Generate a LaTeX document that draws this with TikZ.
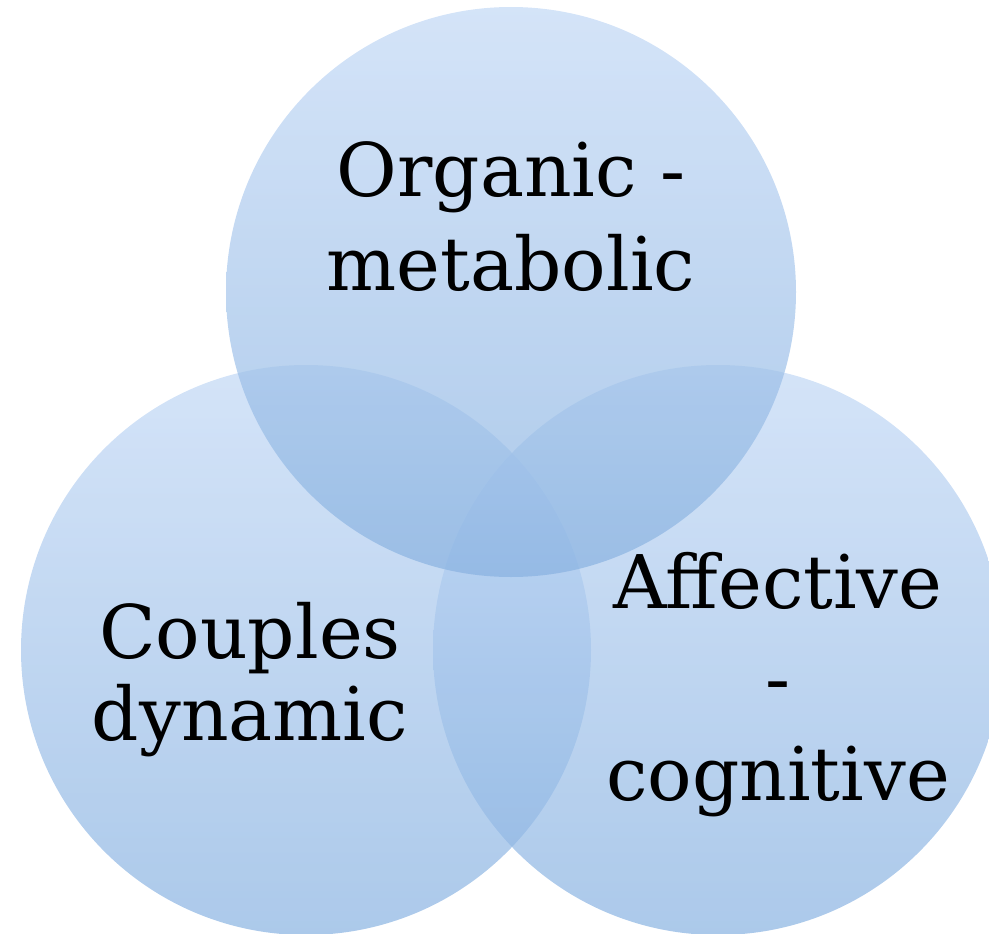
\documentclass[tikz,border=0pt]{standalone}
\usepackage{fontspec}
\setmainfont{DejaVu Serif}
\usepackage{tikz}
\usepackage{xcolor}

\definecolor{bubbletop}{RGB}{194,216,245}
\definecolor{bubblebot}{RGB}{136,178,225}

\begin{document}
\begin{tikzpicture}[x=1pt,y=-1pt,
    bubble/.style={top color=bubbletop,bottom color=bubblebot,fill opacity=0.7},
    lbl/.style={align=center,text=black,font=\fontsize{74}{94}\selectfont}]
      \useasboundingbox (0,0) rectangle (989,934);
      \clip (0,0) rectangle (989,934);
      \coordinate (ctop) at (511,292);
      \coordinate (cleft) at (306,650);
      \coordinate (cright) at (718,650);
      \shade [bubble] (cleft) circle [radius=285];
      \shade [bubble] (cright) circle [radius=285];
      \shade [bubble] (ctop) circle [radius=285];
      \node [lbl] (organic) at (511,217) {Organic -\\metabolic};
      \node [lbl,font=\fontsize{74}{82}\selectfont] (couples) at (250,680) {Couples\\dynamic};
      \node [lbl,font=\fontsize{74}{96}\selectfont] (affective) at (778,685) {Affective\\-\\cognitive};
    \end{tikzpicture}
\end{document}
